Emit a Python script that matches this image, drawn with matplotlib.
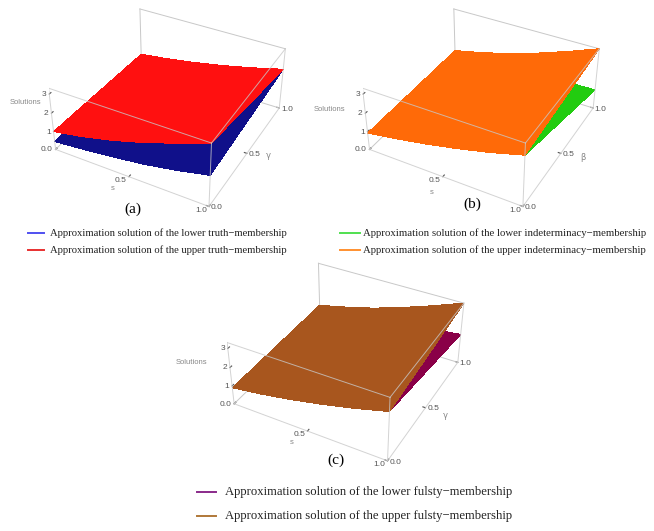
import numpy as np
import matplotlib
matplotlib.use("Agg")
import matplotlib.pyplot as plt
from matplotlib.lines import Line2D

# ---------------- data ----------------
s_vals = [0.0, 0.2, 0.4, 0.6, 0.8, 1.0]
par_vals = [0.0, 1.0]          # membership parameter (gamma / beta)

# (a) truth membership: rows = parameter 0, 1 ; columns = s
lower_T = [[0.45, 0.60, 0.78, 1.00, 1.30, 1.67],
           [0.70, 0.90, 1.15, 1.45, 1.80, 2.20]]
upper_T = [[1.00, 1.30, 1.68, 2.15, 2.70, 3.30],
           [0.70, 0.90, 1.15, 1.45, 1.80, 2.20]]
# (b) indeterminacy membership
lower_I = [[0.92, 1.18, 1.48, 1.83, 2.23, 2.70],
           [0.92, 0.93, 0.95, 0.97, 1.01, 1.05]]
upper_I = [[0.92, 1.18, 1.48, 1.83, 2.23, 2.70],
           [0.92, 1.26, 1.66, 2.15, 2.70, 3.30]]
# (c) falsity membership
lower_F = [[0.90, 1.13, 1.42, 1.76, 2.15, 2.60],
           [0.90, 1.00, 1.12, 1.27, 1.43, 1.60]]
upper_F = [[0.90, 1.13, 1.42, 1.76, 2.15, 2.60],
           [0.90, 1.25, 1.65, 2.15, 2.70, 3.30]]

z_ticks = [0.0, 1, 2, 3]
z_ticklabels = ["0.0", "1", "2", "3"]
xy_ticks = [0.0, 0.5, 1.0]
x_ticklabels = ["", "0.5", "1.0"]
y_ticklabels = ["0.0", "0.5", "1.0"]
Z_MAX = 3.3

legend_a = ["Approximation solution of the lower truth\u2212membership",
            "Approximation solution of the upper truth\u2212membership"]
legend_b = ["Approximation solution of the lower indeterminacy\u2212membership",
            "Approximation solution of the upper indeterminacy\u2212membership"]
legend_c = ["Approximation solution of the lower fulsty\u2212membership",
            "Approximation solution of the upper fulsty\u2212membership"]

# ---------------- styling ----------------
SANS = "Liberation Sans"
SERIF = "Liberation Serif"
BOX = "#c8c8c8"
TICKC = "#555555"
LABC = "#888888"

W, H = 654, 531
fig = plt.figure(figsize=(W / 100, H / 100), dpi=100)
fig.patch.set_facecolor("white")


def fx(px):
    return px / W


def fy(py):
    return 1 - py / H


def draw_box(ax):
    back = [((0, 0), (0, 1), (0, 0)), ((0, 1), (1, 1), (0, 0)),
            ((0, 0), (1, 1), (Z_MAX, Z_MAX)), ((0, 1), (1, 1), (Z_MAX, Z_MAX)),
            ((0, 0), (1, 1), (0, Z_MAX))]
    for xs, ys, zs in back:
        ax.plot(xs, ys, zs, color=BOX, lw=0.7, zorder=1)
    front = [((0, 1), (0, 0), (0, 0)), ((1, 1), (0, 1), (0, 0)),
             ((0, 1), (0, 0), (Z_MAX, Z_MAX)), ((1, 1), (0, 1), (Z_MAX, Z_MAX)),
             ((0, 0), (0, 0), (0, Z_MAX)), ((1, 1), (0, 0), (0, Z_MAX)),
             ((1, 1), (1, 1), (0, Z_MAX))]
    for xs, ys, zs in front:
        ax.plot(xs, ys, zs, color=BOX, lw=0.7, alpha=0.8, zorder=10)


def make_panel(rect, lower, upper, c_low, c_up, par_name, sol_xy, s_xy, p_xy):
    ax = fig.add_axes(rect, projection="3d", computed_zorder=False)
    ax.set_proj_type("persp", focal_length=0.6)
    ax.view_init(elev=36.2, azim=-61.6)
    ax.set_box_aspect((1, 1, 0.44), zoom=1.02)
    S, P = np.meshgrid(np.array(s_vals), np.array(par_vals))
    ax.plot_surface(S, P, np.array(lower), color=c_low, shade=False,
                    linewidth=0, antialiased=False, zorder=3)
    ax.plot_surface(S, P, np.array(upper), color=c_up, shade=False,
                    linewidth=0, antialiased=False, zorder=4)
    ax.set_xlim(0, 1)
    ax.set_ylim(0, 1)
    ax.set_zlim(0, Z_MAX)
    ax.set_xticks(xy_ticks)
    ax.set_xticklabels(x_ticklabels, ha="right", va="center")
    ax.set_yticks(xy_ticks)
    ax.set_yticklabels(y_ticklabels, ha="left", va="center")
    ax.set_zticks(z_ticks)
    ax.set_zticklabels(z_ticklabels, ha="right", va="center")
    ax.zaxis.set_ticks_position("lower")
    ax.zaxis.set_label_position("lower")
    for axis in (ax.xaxis, ax.yaxis, ax.zaxis):
        axis.set_pane_color((1, 1, 1, 0))
        axis.pane.set_edgecolor((1, 1, 1, 0))
        axis.line.set_color((1, 1, 1, 0))
        axis._axinfo["grid"]["linewidth"] = 0
        axis._axinfo["tick"]["color"] = BOX
        axis._axinfo["tick"]["inward_factor"] = 0.0
        axis._axinfo["tick"]["outward_factor"] = 0.2
    ax.grid(False)
    ax.tick_params(labelsize=6, colors=TICKC)
    ax.tick_params(axis="x", pad=-6)
    ax.tick_params(axis="y", pad=-7)
    ax.tick_params(axis="z", pad=-7)
    for lab in ax.get_xticklabels() + ax.get_yticklabels() + ax.get_zticklabels():
        lab.set_fontfamily(SANS)
    ax.set_xlabel("")
    ax.set_ylabel("")
    ax.set_zlabel("")
    ax.text2D(fx(sol_xy[0]), fy(sol_xy[1]), "Solutions", transform=fig.transFigure,
              fontsize=5.5, color=LABC, family=SANS, ha="center", va="center")
    ax.text2D(fx(s_xy[0]), fy(s_xy[1]), "s", transform=fig.transFigure,
              fontsize=5.5, color=LABC, family=SANS, ha="center", va="center")
    ax.text2D(fx(p_xy[0]), fy(p_xy[1]), par_name, transform=fig.transFigure,
              fontsize=6, color=LABC, ha="center", va="center")
    draw_box(ax)
    return ax


ax_a = make_panel([0.027, 0.583, 0.46, 0.45], lower_T, upper_T,
                  "#10108a", "#ff1010", "\u03b3", (26, 103), (113, 189), (268, 156))
ax_b = make_panel([0.507, 0.583, 0.46, 0.45], lower_I, upper_I,
                  "#22cc10", "#ff6a08", "\u03b2", (330, 110), (432, 192), (583, 157))
ax_c = make_panel([0.300, 0.104, 0.46, 0.45], lower_F, upper_F,
                  "#8a0048", "#a8561e", "\u03b3", (192, 362), (292, 443), (445, 415))

fig.text(fx(133), fy(209), "(a)", fontsize=11, family=SERIF, ha="center", va="center")
fig.text(fx(472), fy(204), "(b)", fontsize=11, family=SERIF, ha="center", va="center")
fig.text(fx(336), fy(460), "(c)", fontsize=11, family=SERIF, ha="center", va="center")


def legend(x0, x1, xt, ys, labels, colors, fs):
    for y, lab, col in zip(ys, labels, colors):
        fig.add_artist(Line2D([fx(x0), fx(x1)], [fy(y), fy(y)],
                              color=col, lw=1.4, transform=fig.transFigure))
        fig.text(fx(xt), fy(y), lab, fontsize=fs, family=SERIF,
                 ha="left", va="center", color="#222222")


legend(28, 44, 50, [233, 250], legend_a, ["#5050f0", "#e83030"], 7.65)
legend(340, 360, 363, [233, 250], legend_b, ["#50e050", "#ff9030"], 7.75)
legend(197, 216, 225, [492, 516], legend_c, ["#8a2a8a", "#b07838"], 9.1)

fig.savefig("out.png", dpi=100, facecolor="white")
